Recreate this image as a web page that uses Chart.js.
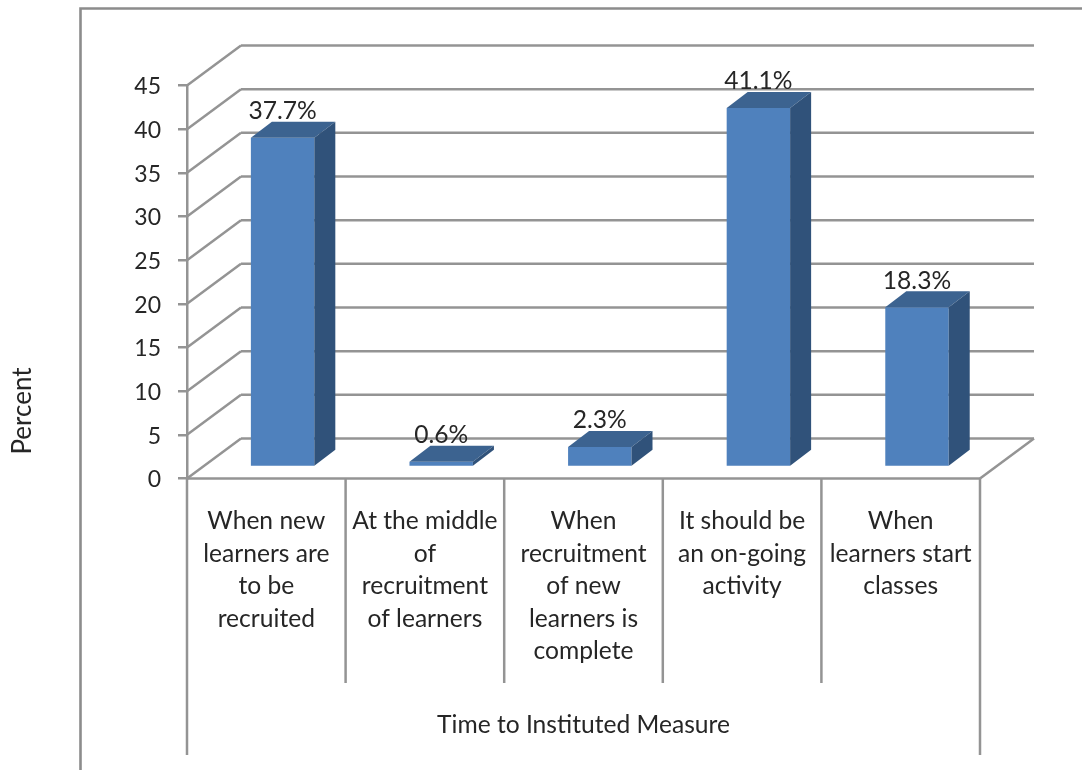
<!DOCTYPE html>
<html><head><meta charset="utf-8">
<style>html,body{margin:0;padding:0;background:#fff}canvas{display:block;filter:blur(0.4px)}#w{width:1082px;height:770px;position:relative}</style>
<script src="https://cdn.jsdelivr.net/npm/chart.js@4"></script>
</head><body><div id="w"><canvas id="c" width="1082" height="770"></canvas></div>
<script>
const categories = [
  ["When new","learners are","to be","recruited"],
  ["At the middle","of","recruitment","of learners"],
  ["When","recruitment","of new","learners is","complete"],
  ["It should be","an on-going","activity"],
  ["When","learners start","classes"]
];
const percentValues = [37.7, 0.6, 2.3, 41.1, 18.3];
const valueLabels = ["37.7%","0.6%","2.3%","41.1%","18.3%"];
const yAxisTitle = "Percent";
const xAxisTitle = "Time to Instituted Measure";

const FONT = "Lato, 'Open Sans', sans-serif", INK = "#262626", LINE = "#949494";
const WALL = {dx:54, dy:-40}, BAR = {dx:16.3, dy:-11.5, ddx:21, ddy:-16};

function seg(ctx,x1,y1,x2,y2){ctx.beginPath();ctx.moveTo(x1,y1);ctx.lineTo(x2,y2);ctx.stroke();}

const plot3d = {
  id:'plot3d',
  beforeDraw(chart){
    const ctx=chart.ctx; ctx.save();
    ctx.strokeStyle="#8c8c8c"; ctx.lineWidth=2.6;
    ctx.beginPath(); ctx.moveTo(80.5,770); ctx.lineTo(80.5,8.5); ctx.lineTo(1082,8.5); ctx.stroke();
    ctx.restore();
  },
  beforeDatasetsDraw(chart){
    const ctx=chart.ctx, {x,y}=chart.scales, L=x.left, R=x.right, B=y.bottom;
    ctx.save(); ctx.strokeStyle=LINE; ctx.lineWidth=2.5;
    y.ticks.forEach(t=>{
      const py=y.getPixelForValue(t.value);
      seg(ctx,L,py,L+WALL.dx,py+WALL.dy);
      seg(ctx,L+WALL.dx,py+WALL.dy,R+WALL.dx,py+WALL.dy);
    });
    seg(ctx,R,B,R+WALL.dx,B+WALL.dy);
    const step=(R-L)/categories.length;
    seg(ctx,L,B,L,755); seg(ctx,R,B,R,755);
    for(let i=1;i<categories.length;i++) seg(ctx,L+step*i,B,L+step*i,683);
    seg(ctx,L,B,R,B);
    ctx.restore();
    ctx.save(); ctx.translate(BAR.dx,BAR.dy);
  },
  afterDatasetsDraw(chart){
    const ctx=chart.ctx, meta=chart.getDatasetMeta(0);
    meta.data.forEach(b=>{
      const l=b.x-b.width/2, r=b.x+b.width/2, t=b.y, bt=b.base;
      ctx.fillStyle="#3C6390";
      ctx.beginPath();ctx.moveTo(l,t);ctx.lineTo(l+BAR.ddx,t+BAR.ddy);ctx.lineTo(r+BAR.ddx,t+BAR.ddy);ctx.lineTo(r,t);ctx.closePath();ctx.fill();
      ctx.fillStyle="#30527A";
      ctx.beginPath();ctx.moveTo(r,t);ctx.lineTo(r+BAR.ddx,t+BAR.ddy);ctx.lineTo(r+BAR.ddx,bt+BAR.ddy);ctx.lineTo(r,bt);ctx.closePath();ctx.fill();
    });
    ctx.fillStyle=INK; ctx.font="24.6px "+FONT; ctx.textAlign="center"; ctx.textBaseline="middle";
    meta.data.forEach((b,i)=>ctx.fillText(valueLabels[i],b.x,b.y+BAR.ddy-10.5));
    ctx.restore();
    ctx.save();
    ctx.fillStyle=INK; ctx.font="26px "+FONT; ctx.textAlign="center"; ctx.textBaseline="middle";
    ctx.translate(23,411); ctx.rotate(-Math.PI/2); ctx.fillText(yAxisTitle,0,0);
    ctx.restore();
  }
};

new Chart(document.getElementById('c'),{
  type:'bar',
  data:{labels:categories,datasets:[{data:percentValues,backgroundColor:"#4F81BD",borderWidth:0,categoryPercentage:0.4,barPercentage:1}]},
  plugins:[plot3d],
  options:{
    responsive:false,animation:false,
    layout:{padding:{top:85.5,right:102,left:0,bottom:0}},
    plugins:{legend:{display:false},title:{display:false},tooltip:{enabled:false}},
    scales:{
      x:{
        afterFit(s){s.height=291.5;},
        grid:{display:false,drawTicks:false},border:{display:false},
        ticks:{autoSkip:false,maxRotation:0,minRotation:0,padding:26.5,color:INK,font:{family:FONT,size:24.6,lineHeight:1.32}},
        title:{display:true,text:xAxisTitle,color:INK,font:{family:FONT,size:24.6},padding:{top:0,bottom:30}}
      },
      y:{
        min:0,max:45,
        afterFit(s){s.width=187;},
        grid:{drawOnChartArea:false,drawTicks:true,tickLength:9,color:LINE,lineWidth:2.5},
        border:{display:true,color:LINE,width:2.5},
        ticks:{stepSize:5,padding:17,labelOffset:1.5,color:INK,font:{family:FONT,size:23}}
      }
    }
  }
});
</script></body></html>
